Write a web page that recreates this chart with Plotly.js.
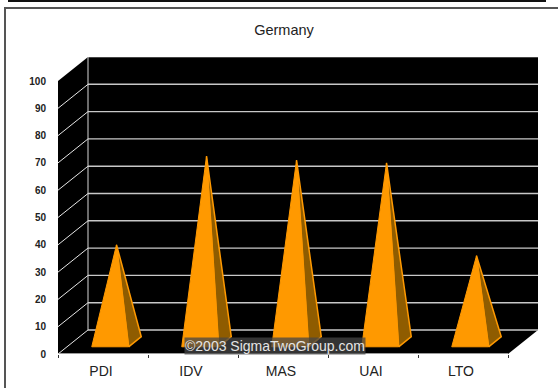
<!DOCTYPE html>
<html>
<head>
<meta charset="utf-8">
<script src="https://cdn.plot.ly/plotly-3.0.1.min.js"></script>
<style>
  html, body { margin: 0; padding: 0; background: #fff; width: 558px; height: 388px; overflow: hidden; }
  #strip { position: absolute; left: 8px; top: -4px; width: 535px; height: 4px; border: 1px solid #111; border-width: 0 2px 2px 1px; }
  #frame { position: absolute; left: 4px; top: 7px; width: 560px; height: 400px; border: 2px solid #555; box-sizing: border-box; border-right: 0; border-bottom: 0; }
  #chart { position: absolute; left: 0; top: 0; }
</style>
</head>
<body>
<div id="strip"></div>
<div id="frame"></div>
<div id="chart"></div>
<script>
// Survey scores for Germany by dimension
const categories = ['PDI', 'IDV', 'MAS', 'UAI', 'LTO'];
const scores = [35.5, 68, 66.5, 65.5, 31.5];
const valueTicks = [0, 10, 20, 30, 40, 50, 60, 70, 80, 90, 100];

// Oblique projection of the chart box, in axis units
const depthX = 1 / 3;
const depthY = 8.8;
const barWidth = 0.41;
const barCentre = 0.48;
const barFront = 0.3;
const barBack = 0.72;
const labelOffset = 0.478;

const project = (x, v, z) => [x + z * depthX, v + z * depthY];

function polygon(points, fill, line, width) {
  const closed = points.concat([points[0]]);
  return {
    x: closed.map(p => p[0]), y: closed.map(p => p[1]),
    type: 'scatter', mode: 'lines', fill: 'toself', fillcolor: fill,
    line: { color: line, width: width }, hoverinfo: 'skip', showlegend: false
  };
}
function segments(list, color, width) {
  const xs = [], ys = [];
  list.forEach(s => { xs.push(s[0][0], s[1][0], null); ys.push(s[0][1], s[1][1], null); });
  return {
    x: xs, y: ys, type: 'scatter', mode: 'lines',
    line: { color: color, width: width }, hoverinfo: 'skip', showlegend: false
  };
}

const n = categories.length;
const traces = [];

// Floor, left wall and back wall as one black silhouette
traces.push(polygon([
  project(0, 0, 0), project(0, 100, 0), project(0, 100, 1),
  project(n, 100, 1), project(n, 0, 1), project(n, 0, 0)
], '#000', '#000', 0));
traces.push(segments([[project(0, 100, 1), project(n, 100, 1)]], '#8a8a8a', 1));

// Gridlines on the back wall and across the left wall
const gridTicks = valueTicks.filter(v => v < 100);
traces.push(segments(gridTicks.map(v => [project(0, v, 1), project(n, v, 1)]), '#c8c8c8', 1.4));
traces.push(segments(gridTicks.map(v => [project(0, v, 0), project(0, v, 1)]), '#e6e6e6', 1));
traces.push(segments([[project(0, 0, 1), project(0, 100, 1)]], '#d8d8d8', 1));

// Front axis line
traces.push(segments([[project(0, 0, 0), project(n, 0, 0)]], '#d0d0d0', 1.5));

// One pyramid per category: lit front face and shaded right face
scores.forEach((score, i) => {
  const left = i + barCentre - barWidth / 2;
  const right = i + barCentre + barWidth / 2;
  const apex = project(i + barCentre, score, (barFront + barBack) / 2);
  traces.push(polygon([project(right, 0, barFront), project(right, 0, barBack), apex], '#8f5c00', '#ff9900', 1.5));
  traces.push(polygon([project(left, 0, barFront), project(right, 0, barFront), apex], '#ff9900', '#ff9900', 1));
});

const plotLeft = 58, plotWidth = 480;
const layout = {
  width: 558, height: 388, autosize: false,
  margin: { l: plotLeft, r: 20, t: 57, b: 34, pad: 0 },
  paper_bgcolor: 'rgba(0,0,0,0)', plot_bgcolor: 'rgba(0,0,0,0)',
  showlegend: false,
  title: {
    text: 'Germany', x: 284 / 558, xanchor: 'center', y: 1 - 30 / 388, yanchor: 'middle',
    font: { family: 'Liberation Sans, Arial, sans-serif', size: 14.5, color: '#222' }
  },
  xaxis: {
    range: [0, n + depthX], showgrid: false, zeroline: false, showline: false, fixedrange: true,
    tickmode: 'array',
    tickvals: categories.map((c, i) => i + labelOffset), ticktext: categories,
    ticks: 'outside', ticklen: 4, tickcolor: 'rgba(0,0,0,0)',
    tickfont: { family: 'Liberation Sans, Arial, sans-serif', size: 14, color: '#222' },
    minor: {
      tickmode: 'array', tickvals: categories.map((c, i) => i).concat([n]),
      ticks: 'outside', ticklen: 3, tickcolor: '#333', tickwidth: 1, showgrid: false
    }
  },
  yaxis: {
    range: [0, 100 + depthY], showgrid: false, zeroline: false, showline: false, fixedrange: true,
    tickmode: 'array', tickvals: valueTicks, ticktext: valueTicks.map(String),
    ticks: 'outside', ticklen: 9, tickcolor: 'rgba(0,0,0,0)',
    tickfont: { family: 'Liberation Sans, Arial, sans-serif', size: 10, color: '#222', weight: 700 }
  },
  annotations: [{
    text: '©2003 SigmaTwoGroup.com', xref: 'paper', yref: 'paper',
    x: (274.5 - plotLeft) / plotWidth, y: (354 - 346) / 297,
    xanchor: 'center', yanchor: 'middle', showarrow: false,
    bgcolor: 'rgba(70,70,70,0.75)', borderpad: 0,
    font: { family: 'Liberation Sans, Arial, sans-serif', size: 14, color: '#e4e4e4' }
  }]
};

Plotly.newPlot('chart', traces, layout, { displayModeBar: false, staticPlot: true });
</script>
</body>
</html>
